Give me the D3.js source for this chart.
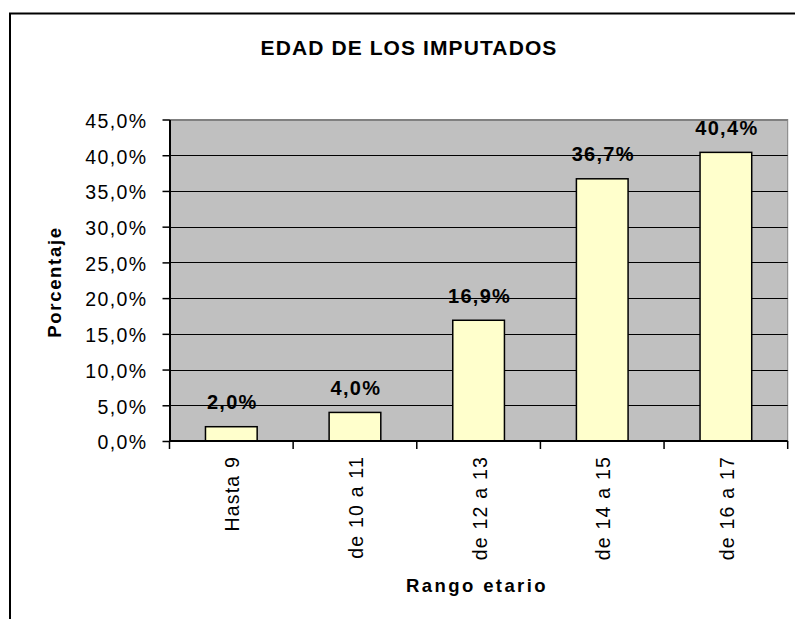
<!DOCTYPE html>
<html>
<head>
<meta charset="utf-8">
<script src="https://cdn.jsdelivr.net/npm/d3@7"></script>
<style>
  html, body { margin: 0; padding: 0; background: #fff; }
  svg { display: block; }
  text { font-family: "Liberation Sans", Arial, sans-serif; fill: #000; }
</style>
</head>
<body>
<svg id="chart" width="795" height="619"></svg>
<script>
const categories = ["Hasta 9", "de 10 a 11", "de 12 a 13", "de 14 a 15", "de 16 a 17"];
const values = [0.020, 0.040, 0.169, 0.367, 0.404];
const yTicks = [0, 0.05, 0.10, 0.15, 0.20, 0.25, 0.30, 0.35, 0.40, 0.45];
const titleText = "EDAD DE LOS IMPUTADOS";
const xTitle = "Rango etario";
const yTitle = "Porcentaje";

const svg = d3.select("#chart");
const plot = { left: 169.5, right: 787.7, top: 119.5, bottom: 441 };

const locale = d3.formatLocale({ decimal: ",", thousands: ".", grouping: [3], currency: ["", "€"] });
const fmt = locale.format(".1%");

// outer frame
svg.append("rect")
  .attr("x", 10).attr("y", 13.5)
  .attr("width", 820).attr("height", 640)
  .attr("fill", "#fff").attr("stroke", "#000").attr("stroke-width", 2);

const x = d3.scaleBand().domain(categories)
  .range([plot.left, plot.right])
  .paddingInner(0.582).paddingOuter(0.291);
const y = d3.scaleLinear().domain([0, 0.45]).range([plot.bottom, plot.top]);

// plot background
svg.append("rect")
  .attr("x", plot.left).attr("y", plot.top)
  .attr("width", plot.right - plot.left).attr("height", plot.bottom - plot.top)
  .attr("fill", "#C0C0C0").attr("stroke", "#808080").attr("stroke-width", 1);

// gridlines
svg.append("g").selectAll("line")
  .data(yTicks.filter(d => d > 0))
  .join("line")
  .attr("x1", plot.left).attr("x2", plot.right)
  .attr("y1", d => Math.round(y(d)) + 0.5).attr("y2", d => Math.round(y(d)) + 0.5)
  .attr("stroke", d => d === 0.45 ? "#808080" : "#000").attr("stroke-width", 1);

// bars
svg.append("g").selectAll("rect")
  .data(values)
  .join("rect")
  .attr("x", (d, i) => x(categories[i]))
  .attr("y", d => y(d))
  .attr("width", x.bandwidth())
  .attr("height", d => y(0) - y(d))
  .attr("fill", "#FFFFCC").attr("stroke", "#000").attr("stroke-width", 1.5);

// data labels
svg.append("g").selectAll("text")
  .data(values)
  .join("text")
  .attr("x", (d, i) => x(categories[i]) + x.bandwidth() / 2 + 1)
  .attr("y", d => y(d) - 17.5)
  .attr("text-anchor", "middle")
  .style("font-size", "20px").style("font-weight", "bold").style("letter-spacing", "1.3px")
  .text(d => fmt(d));

// y axis
const yAxis = d3.axisLeft(y).tickValues(yTicks).tickSize(7).tickSizeOuter(0).tickFormat(fmt);
const gy = svg.append("g").attr("transform", `translate(${plot.left},0)`).call(yAxis);
gy.select(".domain").attr("stroke", "#000").attr("stroke-width", 2);
gy.selectAll(".tick line").attr("stroke", "#000").attr("stroke-width", 1.5);
gy.selectAll(".tick text")
  .attr("x", -22).attr("dy", "0.4em")
  .style("font-size", "19.5px").style("letter-spacing", "1.4px")
  .style("font-family", "'Liberation Sans', Arial, sans-serif");

// x axis
svg.append("line")
  .attr("x1", plot.left).attr("x2", plot.right)
  .attr("y1", plot.bottom).attr("y2", plot.bottom)
  .attr("stroke", "#000").attr("stroke-width", 2);
const step = x.step();
const boundaries = categories.map(c => x(c) + x.bandwidth() / 2 - step / 2)
  .concat([x(categories[categories.length - 1]) + x.bandwidth() / 2 + step / 2]);
svg.append("g").selectAll("line")
  .data(boundaries)
  .join("line")
  .attr("x1", d => d).attr("x2", d => d)
  .attr("y1", plot.bottom).attr("y2", plot.bottom + 8)
  .attr("stroke", "#000").attr("stroke-width", 1.5);

svg.append("g").selectAll("text")
  .data(categories)
  .join("text")
  .attr("transform", c => `translate(${x(c) + x.bandwidth() / 2 + 8},${plot.bottom + 15}) rotate(-90)`)
  .attr("text-anchor", "end")
  .style("font-size", "19.5px").style("letter-spacing", "1.2px")
  .text(c => c);

// titles
svg.append("text")
  .attr("x", 409).attr("y", 55)
  .attr("text-anchor", "middle")
  .style("font-size", "21px").style("font-weight", "bold").style("letter-spacing", "1.1px")
  .text(titleText);

svg.append("text")
  .attr("x", 477).attr("y", 592)
  .attr("text-anchor", "middle")
  .style("font-size", "18.5px").style("font-weight", "bold").style("letter-spacing", "2.4px")
  .text(xTitle);

svg.append("text")
  .attr("transform", "translate(61,282) rotate(-90)")
  .attr("text-anchor", "middle")
  .style("font-size", "18.5px").style("font-weight", "bold").style("letter-spacing", "1.7px")
  .text(yTitle);
</script>
</body>
</html>
